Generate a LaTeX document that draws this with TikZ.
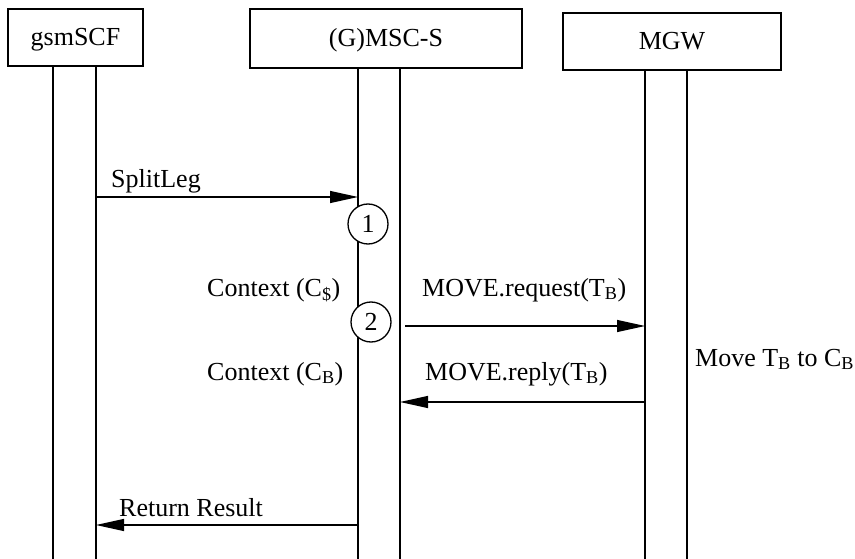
\documentclass[tikz,border=0pt]{standalone}
\usepackage{fontspec}
\setmainfont{Liberation Serif}
\usetikzlibrary{arrows.meta, positioning, calc}

\tikzset{
  entity/.style={draw, line width=1.3pt, inner sep=0pt, text height=17pt, text depth=0pt},
  lifeline/.style={line width=1.3pt},
  msg/.style={-{Triangle[length=28pt, width=12pt]}, line width=1.3pt},
  stepnum/.style={draw, circle, fill=white, line width=1.3pt, minimum size=40pt, inner sep=0pt},
  lbl/.style={anchor=base west, inner sep=0pt}
}

\begin{document}
\begin{tikzpicture}[x=1pt, y=-1pt, every node/.style={font=\fontsize{26}{30}\selectfont}]
  \useasboundingbox (0,0) rectangle (855,559);

  % Entities
  \node[entity, minimum width=135pt, minimum height=57pt] (scf) at (75.5,37.5) {gsmSCF};
  \node[entity, minimum width=272pt, minimum height=59pt] (msc) at (386,38.5) {(G)MSC-S};
  \node[entity, minimum width=218pt, minimum height=57pt] (mgw) at (672,41.5) {MGW};

  % Lifelines
  \foreach \e/\x in {scf/53, scf/96, msc/358, msc/400, mgw/645, mgw/687} {
    \draw[lifeline] (\e.south -| \x,0) -- (\x,559);
  }

  % Message end points
  \coordinate (split-s) at (96,197);
  \coordinate (split-e) at (358,197);
  \coordinate (req-s) at (405,326);
  \coordinate (req-e) at (645,326);
  \coordinate (rep-s) at (645,402);
  \coordinate (rep-e) at (400,402);
  \coordinate (ret-s) at (358,525);
  \coordinate (ret-e) at (96,525);

  % Messages
  \draw[msg] (split-s) -- (split-e);
  \draw[msg] (req-s) -- (req-e);
  \draw[msg] (rep-s) -- (rep-e);
  \draw[msg] (ret-s) -- (ret-e);

  % Steps
  \node[stepnum] (step1) at (368,224) {1};
  \node[stepnum] (step2) at (371,322) {2};

  % Labels
  \node[lbl] (splitleg) at (111,188) {SplitLeg};
  \node[lbl] (ctx1) at (207,296) {Context (C\textsubscript{\$})};
  \node[lbl] (movereq) at (422,296) {MOVE.request(T\textsubscript{B})};
  \node[lbl] (ctx2) at (207,380) {Context (C\textsubscript{B})};
  \node[lbl] (moverep) at (425,380) {MOVE.reply(T\textsubscript{B})};
  \node[lbl] (movetb) at (695,366) {Move T\textsubscript{B} to C\textsubscript{B}};
  \node[lbl] (retres) at (119,516) {Return Result};
\end{tikzpicture}
\end{document}
